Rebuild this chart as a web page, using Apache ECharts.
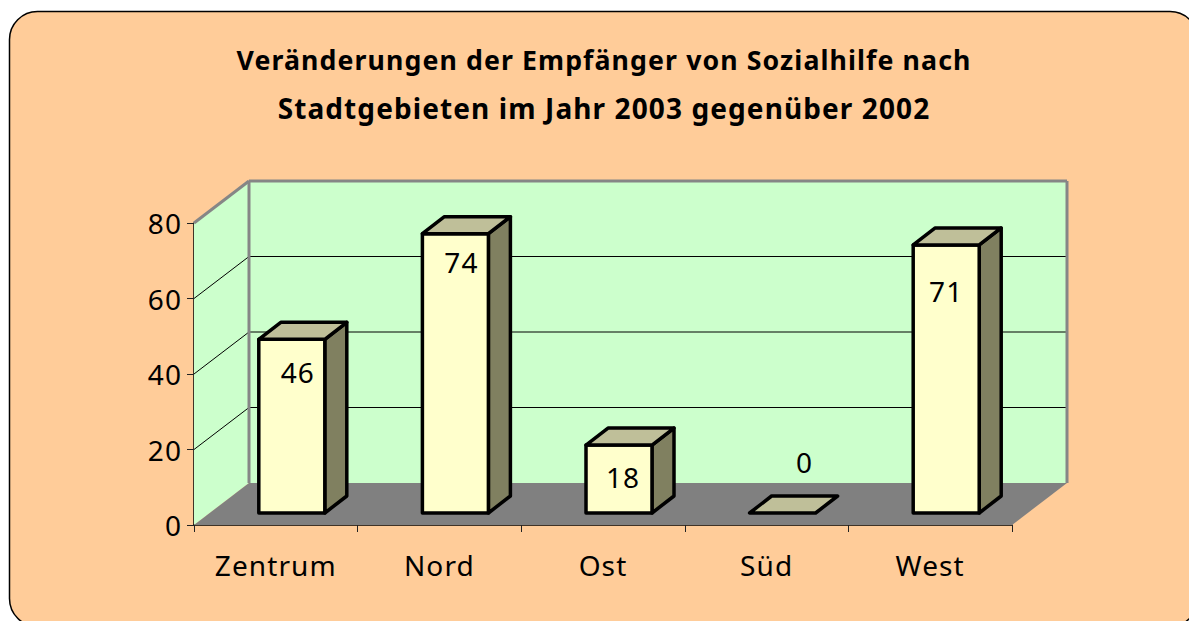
<!DOCTYPE html>
<html>
<head>
<meta charset="utf-8">
<style>
html,body{margin:0;padding:0;background:#fff}
#main{width:1189px;height:621px}
#main text{letter-spacing:1.1px}
</style>
<script src="https://cdn.jsdelivr.net/npm/echarts@6/dist/echarts.min.js"></script>
</head>
<body>
<div id="main"></div>
<script>
const categories = ['Zentrum', 'Nord', 'Ost', 'Süd', 'West']
const values = [46, 74, 18, 0, 71]
const yTicks = [0, 20, 40, 60, 80]
const titleLines = ['Veränderungen der Empfänger von Sozialhilfe nach', 'Stadtgebieten im Jahr 2003 gegenüber 2002']

// Tiefe der 3D-Ansicht in Pixeln
const wallDx = 55, wallDy = 42     // Boden und Seitenwand
const barShiftDx = 16, barShiftDy = 12  // Balken stehen etwas hinter der Vorderkante
const barDx = 22, barDy = 17       // Tiefe der Balken
const barWidth = 66
// Wertebeschriftung sitzt je Balken etwas anders, Versatz zur Balkenmitte/-oberkante
const labelShift = [[6, 33], [6, 28], [4, 32], [22, -51], [0, 46]]

const chart = echarts.init(document.getElementById('main'), null, { renderer: 'svg' })

function poly(points, fill, stroke, lineWidth) {
    return {
        type: 'polygon',
        shape: { points: points },
        style: { fill: fill, stroke: stroke || null, lineWidth: lineWidth || 0, lineJoin: 'round' }
    }
}
function line(a, b, color, w) {
    return {
        type: 'line',
        shape: { x1: a[0], y1: a[1], x2: b[0], y2: b[1] },
        style: { stroke: color, lineWidth: w }
    }
}

// Wände und Boden, einmal gezeichnet
function renderWalls(params, api) {
    const l0 = api.coord([0, 0]), r0 = api.coord([categories.length - 1, 0]), t0 = api.coord([0, 80])
    const size = api.size([1, 0])[0]
    const x1 = l0[0] - size / 2, x2 = r0[0] + size / 2, y0 = l0[1], y1 = t0[1]
    const children = [
        poly([[x1 + wallDx, y1 - wallDy], [x2 + wallDx, y1 - wallDy], [x2 + wallDx, y0 - wallDy], [x1 + wallDx, y0 - wallDy]], '#ccffcc'),
        poly([[x1, y1], [x1 + wallDx, y1 - wallDy], [x1 + wallDx, y0 - wallDy], [x1, y0]], '#ccffcc'),
        poly([[x1, y0], [x1 + wallDx, y0 - wallDy], [x2 + wallDx, y0 - wallDy], [x2, y0]], '#808080')
    ]
    yTicks.slice(1, -1).forEach(function (t) {
        const y = api.coord([0, t])[1]
        children.push(line([x1, y], [x1 + wallDx, y - wallDy], '#000', 1))
        children.push(line([x1 + wallDx, y - wallDy], [x2 + wallDx, y - wallDy], '#000', 1))
    })
    // graue Kanten der Wand
    children.push(line([x1, y1], [x1 + wallDx, y1 - wallDy], '#868686', 3))
    children.push(line([x1 + wallDx, y1 - wallDy], [x2 + wallDx, y1 - wallDy], '#868686', 3))
    children.push(line([x1 + wallDx, y1 - wallDy], [x1 + wallDx, y0 - wallDy], '#868686', 3))
    children.push(line([x2 + wallDx, y1 - wallDy], [x2 + wallDx, y0 - wallDy], '#868686', 3))
    return { type: 'group', children: children }
}

function renderBar(params, api) {
    const cat = api.value(0), val = api.value(1)
    const base = api.coord([cat, 0]), top = api.coord([cat, val])
    const xl = base[0] + barShiftDx - barWidth / 2, xr = xl + barWidth
    const yb = base[1] - barShiftDy, yt = top[1] - barShiftDy
    const s = '#000', w = 3.5
    const children = []
    if (val > 0) {
        children.push(poly([[xr, yb], [xr + barDx, yb - barDy], [xr + barDx, yt - barDy], [xr, yt]], '#808060', s, w))
        children.push(poly([[xl, yb], [xr, yb], [xr, yt], [xl, yt]], '#ffffcc', s, w))
    }
    children.push(poly([[xl, yt], [xr, yt], [xr + barDx, yt - barDy], [xl + barDx, yt - barDy]], '#bfbf99', s, w))
    const shift = labelShift[cat]
    children.push({
        type: 'text',
        style: {
            text: String(val), x: (xl + xr) / 2 + shift[0], y: yt + shift[1], align: 'center', verticalAlign: 'middle',
            fill: '#000', font: '28px "Noto Sans", sans-serif'
        }
    })
    return { type: 'group', children: children }
}

chart.setOption({
    animation: false,
    backgroundColor: '#fff',
    graphic: [
        {
            type: 'rect', z: -10,
            shape: { x: 9.5, y: 11.5, width: 1188.5, height: 615, r: 28 },
            style: { fill: '#ffcc99', stroke: '#000', lineWidth: 1.5 }
        },
        {
            type: 'text', z: 10,
            x: 604, y: 59,
            style: { text: titleLines[0], x: 0, y: 0, align: 'center', verticalAlign: 'middle', fill: '#000', font: 'bold 26.7px "Noto Sans", sans-serif' }
        },
        {
            type: 'text', z: 10,
            x: 604, y: 108,
            style: { text: titleLines[1], x: 0, y: 0, align: 'center', verticalAlign: 'middle', fill: '#000', font: 'bold 28px "Noto Sans", sans-serif' }
        }
    ],
    grid: { left: 194, right: 177, top: 223, bottom: 96 },
    xAxis: {
        type: 'category',
        data: categories,
        axisLine: { show: true, lineStyle: { color: '#000', width: 1.5 } },
        axisTick: { show: true, alignWithLabel: false, length: 7, lineStyle: { color: '#222' } },
        axisLabel: { color: '#000', fontSize: 28, fontFamily: '"Noto Sans", sans-serif', margin: 26 },
        splitLine: { show: false }
    },
    yAxis: {
        type: 'value',
        min: 0,
        max: 80,
        interval: 20,
        axisLine: { show: true, lineStyle: { color: '#000', width: 1.5 } },
        axisTick: { show: true, length: 7, lineStyle: { color: '#222' } },
        axisLabel: { color: '#000', fontSize: 28, fontFamily: '"Noto Sans", sans-serif', margin: 12 },
        splitLine: { show: false }
    },
    series: [
        { type: 'custom', data: [[0, 0]], renderItem: renderWalls, silent: true, clip: false, z: 1 },
        {
            type: 'custom',
            data: categories.map(function (c, i) { return [i, values[i]] }),
            renderItem: renderBar,
            clip: false,
            z: 3
        }
    ]
})

window.addEventListener('resize', function () {
    chart.resize()
})
</script>
</body>
</html>
